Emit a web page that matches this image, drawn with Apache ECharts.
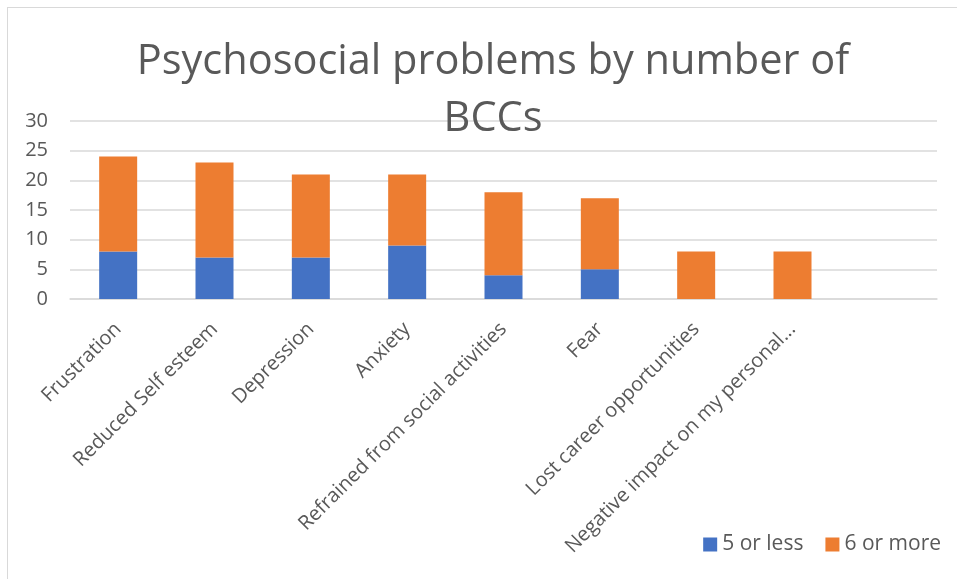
<!DOCTYPE html>
<html>
<head>
<meta charset="utf-8">
<script src="https://cdn.jsdelivr.net/npm/echarts@6/dist/echarts.min.js"></script>
<style>
html,body{margin:0;padding:0;background:#fff;}
#frame{position:absolute;left:7px;top:7px;width:950px;height:572px;border-left:1.5px solid #d9d9d9;border-top:1.5px solid #d9d9d9;}
#chart{position:absolute;left:0;top:0;width:957px;height:579px;}
</style>
</head>
<body>
<div id="frame"></div>
<div id="chart"></div>
<script>
const categories = ["Frustration","Reduced Self esteem","Depression","Anxiety","Refrained from social activities","Fear","Lost career opportunities","Negative impact on my personal...",""];
const fiveOrLess = [8,7,7,9,4,5,null,null,null];
const sixOrMore = [16,16,14,12,14,12,8,8,null];
const seriesNames = ["5 or less","6 or more"];
const titleText = "Psychosocial problems by number of\nBCCs";

const chart = echarts.init(document.getElementById('chart'));
const font = "'Open Sans', sans-serif";
chart.setOption({
  animation:false,
  title:{
    text:titleText,
    left:488, top:29, textAlign:'center',
    textStyle:{fontFamily:font,fontSize:41.5,fontWeight:'normal',color:'#595959',lineHeight:57}
  },
  grid:{left:70,right:20,top:121,bottom:280,containLabel:false},
  legend:{
    data:seriesNames, right:11, bottom:19, itemWidth:14, itemHeight:14, itemGap:22,
    icon:'rect',
    textStyle:{fontFamily:font,fontSize:21,color:'#595959'}
  },
  xAxis:{
    type:'category', data:categories,
    axisLine:{show:true,lineStyle:{color:'#d9d9d9',width:1.5}},
    axisTick:{show:false},
    axisLabel:{rotate:45,interval:0,margin:27,fontFamily:font,fontSize:20,color:'#595959'}
  },
  yAxis:{
    type:'value', min:0, max:30, interval:5,
    axisLine:{show:false}, axisTick:{show:false},
    splitLine:{lineStyle:{color:'#d9d9d9',width:1.5}},
    axisLabel:{margin:22,fontFamily:font,fontSize:20,color:'#595959'}
  },
  series:[
    {name:seriesNames[0],type:'bar',stack:'a',data:fiveOrLess,barWidth:38,itemStyle:{color:'#4472C4'}},
    {name:seriesNames[1],type:'bar',stack:'a',data:sixOrMore,barWidth:38,itemStyle:{color:'#ED7D31'}}
  ]
});
</script>
</body>
</html>
